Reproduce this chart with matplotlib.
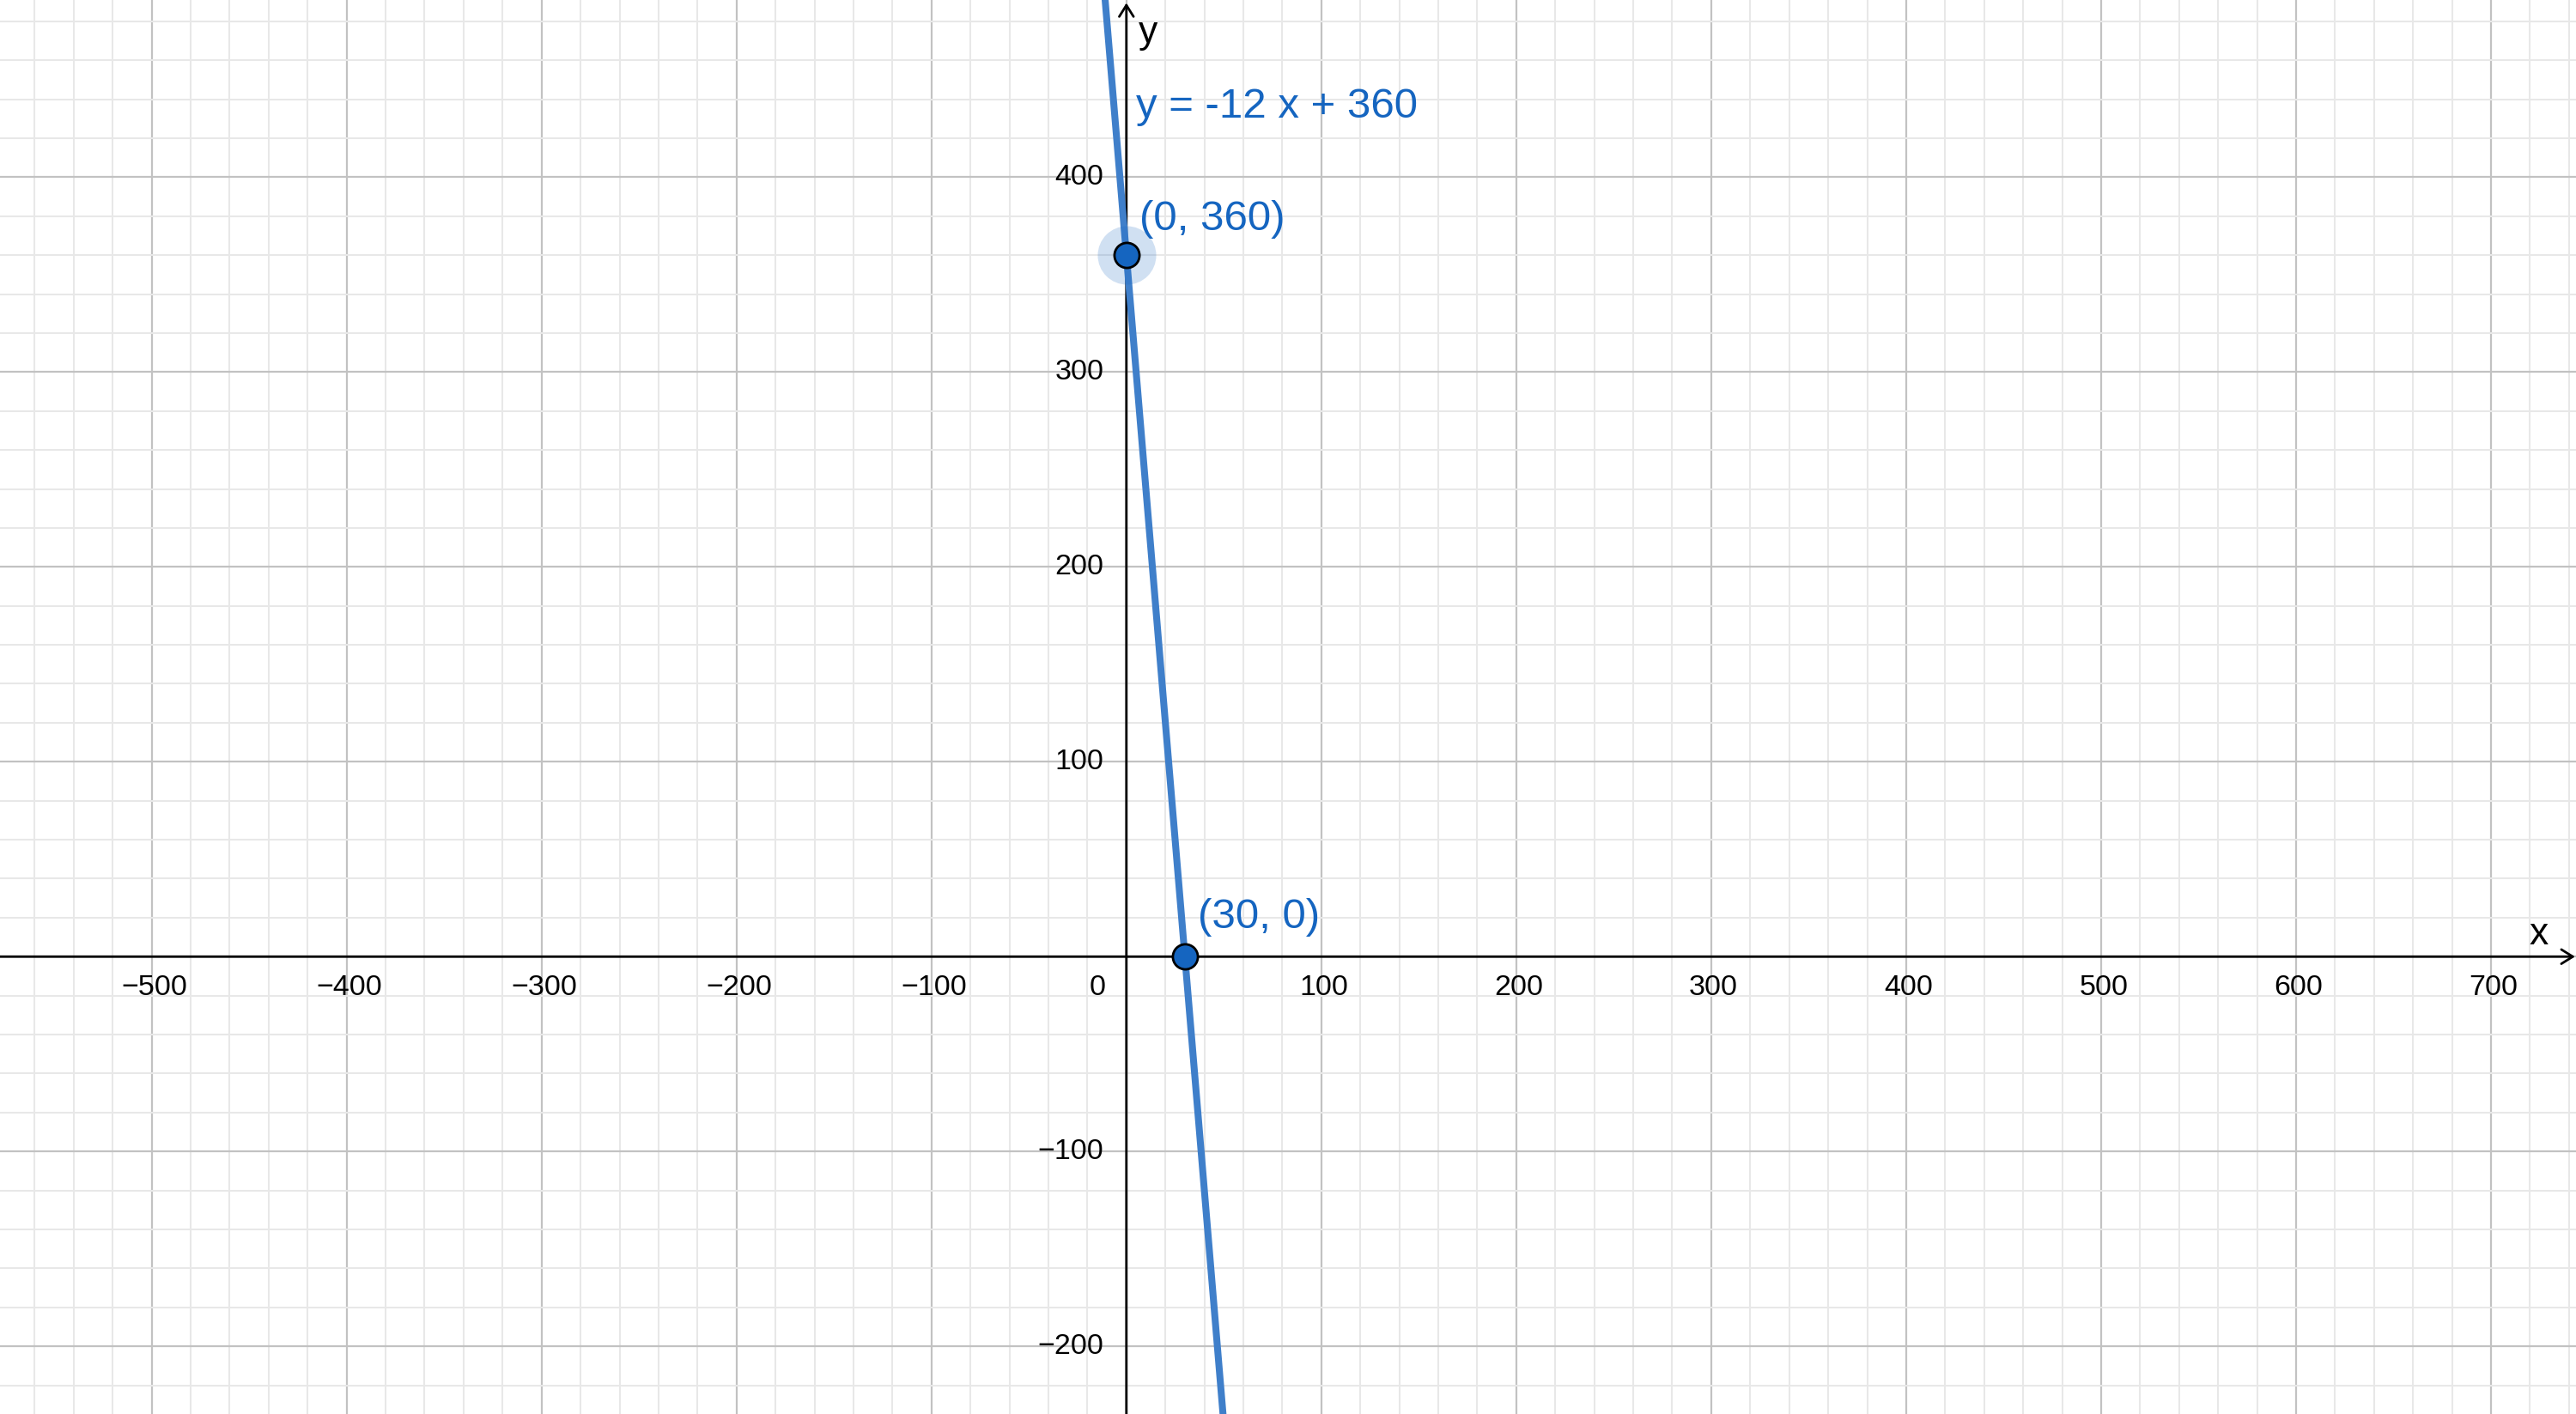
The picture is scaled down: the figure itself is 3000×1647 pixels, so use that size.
import matplotlib
matplotlib.use('Agg')
import matplotlib.pyplot as plt
from matplotlib.ticker import MultipleLocator

plt.rcParams['font.family'] = ['Liberation Sans', 'DejaVu Sans']

# line y = slope * x + intercept
slope = -12
intercept = 360
line_x = [-30, 70]
equation = 'y = -12 x + 360'

# marked points
point_x = [0, 30]
point_y = [360, 0]
point_labels = ['(0, 360)', '(30, 0)']

x_ticks = [-500, -400, -300, -200, -100, 100, 200, 300, 400, 500, 600, 700]
y_ticks = [-200, -100, 100, 200, 300, 400]

xmin, xmax = -577.8, 743.6
ymin, ymax = -234.7, 490.9

blue_text = '#1565c0'
blue_line = '#3f7fca'

fig = plt.figure(figsize=(30, 16.47), dpi=100)
ax = fig.add_axes([0, 0, 1, 1])
ax.set_xlim(xmin, xmax)
ax.set_ylim(ymin, ymax)

# grid like geogebra
ax.xaxis.set_major_locator(MultipleLocator(100))
ax.yaxis.set_major_locator(MultipleLocator(100))
ax.xaxis.set_minor_locator(MultipleLocator(20))
ax.yaxis.set_minor_locator(MultipleLocator(20))
ax.grid(which='minor', color='#e8e8e8', lw=1.5)
ax.grid(which='major', color='#c2c2c2', lw=1.6)
ax.tick_params(which='both', length=0, labelbottom=False, labelleft=False)
for s in ax.spines.values():
    s.set_visible(False)
ax.set_axisbelow(True)

# axes with arrows
arrow = dict(arrowstyle='->,head_length=0.8,head_width=0.5', color='black', lw=2,
             mutation_scale=12, shrinkA=0, shrinkB=0)
ax.annotate('', xy=(xmax - 0.5, 0), xytext=(xmin, 0), arrowprops=arrow)
ax.annotate('', xy=(0, ymax - 1.5), xytext=(0, ymin), arrowprops=arrow)
ax.text(719.6, 6.3, 'x', fontsize=32, ha='left', va='baseline')
ax.text(6.4, 468.8, 'y', fontsize=32, ha='left', va='baseline')

# tick labels
for t in x_ticks:
    ax.annotate(str(t).replace('-', '\u2212'), xy=(t, 0), xytext=(2, -26),
                textcoords='offset points', ha='center', va='center', fontsize=24.5)
for t in y_ticks:
    ax.annotate(str(t).replace('-', '\u2212'), xy=(0, t), xytext=(-19, 0),
                textcoords='offset points', ha='right', va='center', fontsize=24.5)
ax.annotate('0', xy=(0, 0), xytext=(-24, -26), textcoords='offset points',
            ha='center', va='center', fontsize=24.5)

# the line
line_y = [slope * x + intercept for x in line_x]
ax.plot(line_x, line_y, color=blue_line, lw=5.8, solid_capstyle='butt', zorder=3)
ax.text(5, 430.5, equation, color=blue_text, fontsize=35.5, ha='left', va='baseline')

# points
ax.plot(point_x[0], point_y[0], 'o', ms=49, color=blue_text, alpha=0.2, mec='none', zorder=4)
ax.plot(point_x, point_y, 'o', ms=21, mfc=blue_text, mec='black', mew=2, ls='none', zorder=5)
offsets = [(11, 21), (11, 24)]
for px, py, lab, off in zip(point_x, point_y, point_labels, offsets):
    ax.annotate(lab, xy=(px, py), xytext=off, textcoords='offset points',
                color=blue_text, fontsize=35.5, ha='left', va='baseline')

fig.savefig('out.png', dpi=100)
